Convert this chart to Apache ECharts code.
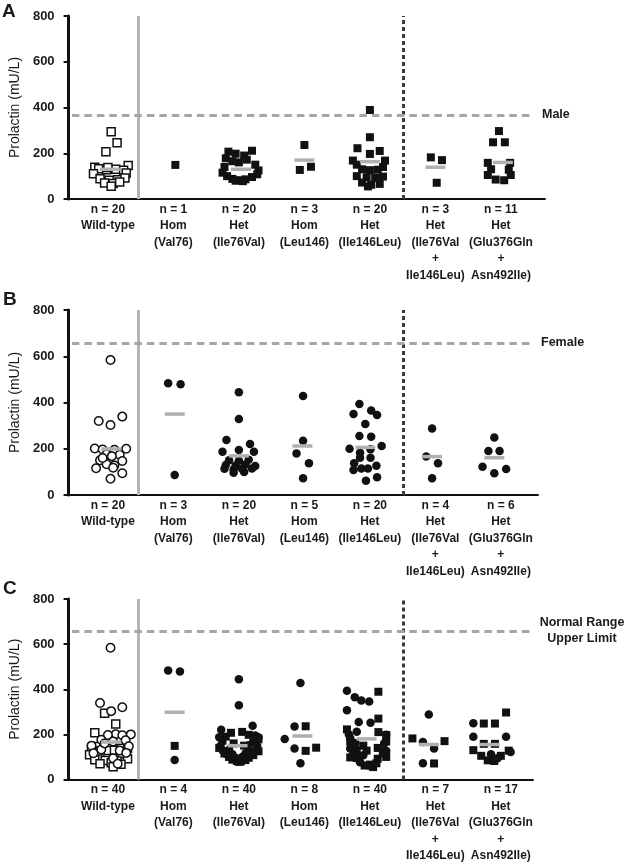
<!DOCTYPE html>
<html>
<head>
<meta charset="utf-8">
<script src="https://cdn.jsdelivr.net/npm/echarts@6/dist/echarts.min.js"></script>
<style>
  html, body { margin: 0; padding: 0; background: #fff; }
  #main { width: 625px; height: 864px; }
</style>
</head>
<body>
<div id="main"></div>
<script>
// group labels (x axis), same order in every panel
var groupNames = ['Wild-type', 'Hom\n(Val76)', 'Het\n(Ile76Val)', 'Hom\n(Leu146)', 'Het\n(Ile146Leu)',
  'Het\n(Ile76Val\n+\nIle146Leu)', 'Het\n(Glu376Gln\n+\nAsn492Ile)'];
var nMale = [20, 1, 20, 3, 20, 3, 11];
var nFemale = [20, 3, 20, 5, 20, 4, 6];
var nAll = [40, 4, 40, 8, 40, 7, 17];

// prolactin values (mU/L), one list per group
var maleValues = [
  [294, 246, 207, 146, 139, 132, 128, 130, 126, 138, 110, 114, 88, 82, 84, 92, 70, 68, 74, 56],
  [149],
  [207, 211, 198, 190, 178, 172, 165, 160, 150, 140, 125, 115, 108, 100, 96, 88, 86, 82, 80, 78],
  [236, 127, 141],
  [389, 270, 222, 210, 197, 168, 168, 150, 140, 130, 126, 128, 100, 95, 92, 98, 72, 62, 66, 55],
  [182, 170, 71],
  [297, 248, 248, 158, 158, 130, 128, 105, 105, 85, 82]
];
var femaleValues = [
  [584, 320, 303, 339, 201, 197, 196, 200, 176, 174, 168, 150, 147, 133, 128, 116, 118, 94, 70, 160],
  [483, 479, 86],
  [444, 329, 238, 221, 187, 187, 195, 150, 148, 152, 130, 128, 132, 125, 114, 110, 112, 115, 96, 100],
  [428, 235, 180, 137, 72],
  [393, 350, 365, 346, 307, 255, 252, 200, 212, 198, 183, 161, 161, 137, 127, 108, 115, 115, 62, 77],
  [288, 166, 137, 72],
  [249, 190, 190, 122, 112, 94]
];

// horizontal scatter (jitter), in group widths
var maleOffsetsA = [
  [0.05, 0.14, -0.03, 0.31, -0.2, -0.14, -0.02, 0.12, 0.24, 0.0, -0.22, 0.28, -0.12, 0.02, 0.15, 0.26, -0.05, 0.08, 0.18, 0.05],
  [0.03],
  [-0.16, 0.2, -0.05, 0.08, -0.2, 0.12, -0.1, 0.0, 0.25, -0.22, 0.3, -0.25, 0.28, -0.18, 0.2, -0.1, 0.1, 0.0, -0.05, 0.06],
  [0.0, -0.07, 0.1],
  [0, 0, -0.19, 0.15, 0, -0.26, 0.23, -0.2, 0.2, -0.12, 0.0, 0.12, -0.2, -0.05, 0.08, 0.2, -0.12, 0.02, 0.15, -0.03],
  [-0.07, 0.1, 0.02],
  [-0.03, -0.12, 0.06, -0.2, 0.14, -0.15, 0.12, -0.2, 0.15, -0.08, 0.05]
];
var femaleOffsetsB = [
  [0.04, -0.14, 0.04, 0.22, -0.2, -0.08, 0.1, 0.28, -0.02, 0.18, 0.06, -0.12, 0.22, -0.02, 0.1, -0.18, 0.08, 0.22, 0.04, -0.08],
  [-0.08, 0.11, 0.02],
  [0, 0, -0.19, 0.17, -0.25, 0.23, 0.0, -0.15, 0.0, 0.15, -0.2, -0.05, 0.1, 0.25, -0.22, -0.08, 0.05, 0.2, -0.08, 0.08],
  [-0.02, -0.02, -0.12, 0.07, -0.02],
  [-0.16, -0.25, 0.02, 0.11, -0.07, -0.16, 0.02, -0.31, 0.18, 0.01, -0.15, -0.15, 0.01, -0.24, 0.1, -0.25, -0.13, -0.03, -0.06, 0.11],
  [-0.05, -0.14, 0.04, -0.05],
  [-0.1, -0.19, -0.02, -0.28, 0.08, -0.1]
];
var maleOffsetsC = [
  [-0.05, 0.12, -0.2, -0.18, 0.2, -0.25, 0.0, 0.1, -0.12, 0.3, -0.28, 0.22, -0.2, 0.14, -0.04, 0.3, -0.12, 0.2, 0.05, 0.08],
  [0.02],
  [-0.12, 0.05, 0.15, -0.2, 0.3, -0.25, 0.22, -0.08, 0.08, -0.3, 0.3, -0.22, 0.22, -0.15, 0.15, -0.1, 0.1, -0.03, 0.03, 0.0],
  [0.02, 0.02, 0.18],
  [0.13, 0.13, -0.35, 0.13, 0.25, -0.3, 0.25, -0.1, 0.12, -0.2, 0.2, -0.05, 0.25, -0.2, 0.12, -0.3, 0.1, -0.08, 0.0, 0.05],
  [-0.35, 0.14, -0.02],
  [0.08, -0.26, -0.09, -0.26, -0.09, -0.42, 0.12, -0.3, 0.0, -0.2, -0.1]
];
var femaleOffsetsC = [
  [0.04, 0.22, 0.05, -0.12, 0.12, 0.0, 0.22, 0.35, -0.1, 0.27, 0.08, -0.25, 0.32, -0.1, 0.18, -0.22, 0.28, 0.08, 0.15, -0.05],
  [-0.08, 0.1, 0.02],
  [0, 0, 0.21, -0.27, -0.3, 0.3, 0.25, -0.28, 0.28, 0.15, -0.25, 0.25, -0.15, 0.15, -0.2, 0.2, -0.1, 0.1, -0.05, 0.05],
  [-0.06, -0.15, -0.3, -0.15, -0.06],
  [-0.35, -0.13, -0.23, -0.01, -0.35, -0.17, 0.01, -0.32, -0.2, 0.25, -0.3, -0.22, 0.22, -0.3, 0.25, -0.1, -0.25, 0.2, -0.02, -0.15],
  [-0.1, -0.19, -0.02, -0.19],
  [-0.42, -0.42, 0.08, 0.15, -0.15, -0.05]
];

// group means (grey bars) and where they sit
var meanMale = [130, null, 130, 170, 163, 139, 160];
var meanMaleX = [0.03, 0, 0.03, 0, 0, 0, 0.03];
var meanFemale = [199, 350, 169, 212, 206, 166, 161];
var meanFemaleX = [0.05, 0.02, 0, -0.03, -0.07, -0.05, -0.1];
var meanAll = [166, 298, 150, 193, 180, 155, 155];
var meanAllX = [0.05, 0.02, -0.02, -0.03, -0.05, -0.1, -0.17];

var maleLimit = 367;
var femaleLimit = 655;
var yTicks = [0, 800, 200];

var FONT = '"Liberation Sans", Arial, sans-serif';
var chart = echarts.init(document.getElementById('main'));

var panels = [
  { top: 16, height: 183, width: 480, xMax: 6.673, n: nMale, limit: maleLimit, means: meanMale, meansX: meanMaleX,
    squares: maleOffsetsA, circles: null },
  { top: 310, height: 185, width: 473, xMax: 6.567, n: nFemale, limit: femaleLimit, means: meanFemale, meansX: meanFemaleX,
    squares: null, circles: femaleOffsetsB },
  { top: 599, height: 186, width: 468, xMax: 6.491, n: nAll, limit: femaleLimit, means: meanAll, meansX: meanAllX,
    squares: maleOffsetsC, circles: femaleOffsetsC }
];

function points(values, offsets, from, to) {
  var out = [];
  for (var g = from; g <= to; g++) {
    for (var k = 0; k < values[g].length; k++) {
      out.push([g + offsets[g][k], values[g][k]]);
    }
  }
  return out;
}

var grids = [], xAxes = [], yAxes = [], series = [];

panels.forEach(function (p, i) {
  grids.push({ left: 65, top: p.top, width: p.width, height: p.height });
  xAxes.push({
    type: 'value', gridIndex: i, min: -0.6, max: p.xMax,
    axisLine: { onZero: false, lineStyle: { color: '#111', width: 2 } },
    axisTick: { show: false },
    splitLine: { show: false },
    axisLabel: {
      customValues: [0, 1, 2, 3, 4, 5, 6],
      margin: 2,
      fontFamily: FONT, fontSize: 12, fontWeight: 'bold', color: '#1a1a1a', lineHeight: 16.5,
      formatter: (function (n) {
        return function (v) {
          var g = Math.round(v);
          return 'n = ' + n[g] + '\n' + groupNames[g];
        };
      })(p.n)
    }
  });
  yAxes.push({
    type: 'value', gridIndex: i, min: yTicks[0], max: yTicks[1], interval: yTicks[2],
    name: 'Prolactin (mU/L)', nameLocation: 'middle', nameGap: 38,
    nameTextStyle: { fontFamily: FONT, fontSize: 14, color: '#1a1a1a' },
    axisLine: { show: true, onZero: false, lineStyle: { color: '#111', width: 3 } },
    axisTick: { show: true, length: 5, lineStyle: { color: '#111', width: 2 } },
    splitLine: { show: false },
    axisLabel: { fontFamily: FONT, fontSize: 13, fontWeight: 'bold', color: '#1a1a1a', margin: 14 }
  });

  // dividers and limit line
  series.push({
    type: 'scatter', xAxisIndex: i, yAxisIndex: i, data: [], silent: true, z: 1,
    markLine: {
      silent: true, symbol: ['none', 'none'], animation: false, label: { show: false },
      data: [
        { xAxis: 0.47, lineStyle: { color: '#b3b3b3', width: 3, type: 'solid' } },
        { xAxis: 4.515, lineStyle: { color: '#3a3a3a', width: 3, type: [4, 3] } },
        [{ coord: [-0.55, p.limit], lineStyle: { color: '#a6a6a6', width: 3, type: [7.5, 5] } },
         { coord: [6.485, p.limit] }]
      ]
    }
  });

  if (p.squares) {
    series.push({
      type: 'scatter', xAxisIndex: i, yAxisIndex: i, symbol: 'rect', symbolSize: 8, z: 3,
      itemStyle: { color: '#fff', borderColor: '#111', borderWidth: 1.5, opacity: 1 },
      data: points(maleValues, p.squares, 0, 0)
    });
    series.push({
      type: 'scatter', xAxisIndex: i, yAxisIndex: i, symbol: 'rect', symbolSize: 8, z: 3,
      itemStyle: { color: '#111', opacity: 1 },
      data: points(maleValues, p.squares, 1, 6)
    });
  }
  if (p.circles) {
    series.push({
      type: 'scatter', xAxisIndex: i, yAxisIndex: i, symbol: 'circle', symbolSize: 8.5, z: 3,
      itemStyle: { color: '#fff', borderColor: '#111', borderWidth: 1.5, opacity: 1 },
      data: points(femaleValues, p.circles, 0, 0)
    });
    series.push({
      type: 'scatter', xAxisIndex: i, yAxisIndex: i, symbol: 'circle', symbolSize: 8.5, z: 3,
      itemStyle: { color: '#111', opacity: 1 },
      data: points(femaleValues, p.circles, 1, 6)
    });
  }

  // mean bars
  var meanData = [];
  p.means.forEach(function (m, g) {
    if (m !== null) meanData.push([g + p.meansX[g], m]);
  });
  series.push({
    type: 'scatter', xAxisIndex: i, yAxisIndex: i, symbol: 'rect', symbolSize: [20, 3.5], z: 4,
    itemStyle: { color: '#b0b0b0', opacity: 1 },
    data: meanData
  });
});

var textStyle = { fontFamily: FONT, fontWeight: 'bold', fill: '#1a1a1a' };
chart.setOption({
  backgroundColor: '#fff',
  animation: false,
  grid: grids,
  xAxis: xAxes,
  yAxis: yAxes,
  series: series,
  graphic: [
    { type: 'text', left: 2, top: 2, style: Object.assign({ text: 'A', fontSize: 19 }, textStyle) },
    { type: 'text', left: 3, top: 290, style: Object.assign({ text: 'B', fontSize: 19 }, textStyle) },
    { type: 'text', left: 3, top: 579, style: Object.assign({ text: 'C', fontSize: 19 }, textStyle) },
    { type: 'text', x: 542, y: 115, style: Object.assign({ text: 'Male', fontSize: 12.5, verticalAlign: 'middle' }, textStyle) },
    { type: 'text', x: 541, y: 343, style: Object.assign({ text: 'Female', fontSize: 12.5, verticalAlign: 'middle' }, textStyle) },
    { type: 'text', x: 582, y: 631, style: Object.assign({ text: 'Normal Range\nUpper Limit', fontSize: 12.5, lineHeight: 16,
      align: 'center', verticalAlign: 'middle' }, textStyle) }
  ]
});
</script>
</body>
</html>
